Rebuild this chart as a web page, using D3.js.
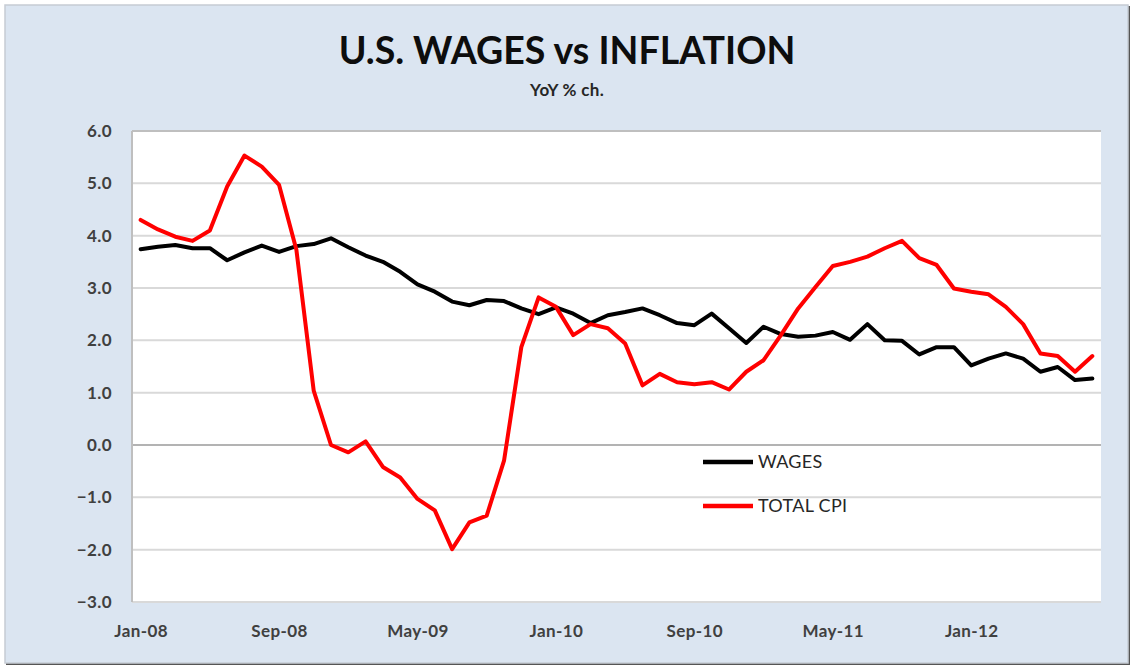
<!DOCTYPE html>
<html>
<head>
<meta charset="utf-8">
<script src="https://cdn.jsdelivr.net/npm/d3@7"></script>
<style>
  body { margin: 0; background: #fff; }
  svg { display: block; }
</style>
</head>
<body>
<div id="chart"></div>
<script>

// months, Jan-08 .. Aug-12
var months = [
  "Jan-08","Feb-08","Mar-08","Apr-08","May-08","Jun-08","Jul-08","Aug-08","Sep-08","Oct-08","Nov-08","Dec-08",
  "Jan-09","Feb-09","Mar-09","Apr-09","May-09","Jun-09","Jul-09","Aug-09","Sep-09","Oct-09","Nov-09","Dec-09",
  "Jan-10","Feb-10","Mar-10","Apr-10","May-10","Jun-10","Jul-10","Aug-10","Sep-10","Oct-10","Nov-10","Dec-10",
  "Jan-11","Feb-11","Mar-11","Apr-11","May-11","Jun-11","Jul-11","Aug-11","Sep-11","Oct-11","Nov-11","Dec-11",
  "Jan-12","Feb-12","Mar-12","Apr-12","May-12","Jun-12","Jul-12","Aug-12"
];

var wages = [
  3.74, 3.79, 3.82, 3.76, 3.76, 3.53, 3.68, 3.81, 3.69, 3.80, 3.84, 3.95,
  3.78, 3.62, 3.50, 3.31, 3.07, 2.93, 2.74, 2.67, 2.77, 2.75, 2.61, 2.50,
  2.63, 2.51, 2.33, 2.48, 2.54, 2.61, 2.48, 2.33, 2.29, 2.51, 2.23, 1.95,
  2.26, 2.12, 2.07, 2.09, 2.16, 2.01, 2.31, 2.00, 1.99, 1.73, 1.87, 1.87,
  1.52, 1.65, 1.75, 1.65, 1.40, 1.49, 1.24, 1.27
];

var totalCpi = [
  4.30, 4.12, 3.98, 3.90, 4.10, 4.94, 5.53, 5.32, 4.97, 3.73, 1.04, 0.00,
  -0.14, 0.07, -0.42, -0.62, -1.03, -1.25, -1.99, -1.48, -1.35, -0.30, 1.87, 2.82,
  2.64, 2.10, 2.31, 2.23, 1.94, 1.14, 1.36, 1.20, 1.16, 1.20, 1.06, 1.40,
  1.62, 2.10, 2.61, 3.02, 3.42, 3.50, 3.60, 3.76, 3.90, 3.57, 3.44, 2.99,
  2.93, 2.88, 2.64, 2.31, 1.75, 1.70, 1.40, 1.70
];

var xTickLabels = ["Jan-08","Sep-08","May-09","Jan-10","Sep-10","May-11","Jan-12"];
var yTickValues = [-3, -2, -1, 0, 1, 2, 3, 4, 5, 6];

var seriesNames = ["WAGES", "TOTAL CPI"];
var seriesColors = ["#000000", "#ff0000"];

var width = 1135,
  height = 668,
  plot = {left: 132, right: 1101, top: 131, bottom: 602};

var fontFamily = "Lato, 'Open Sans', sans-serif";

var svg = d3.select("#chart").append("svg")
  .attr("width", width)
  .attr("height", height);

// outer panel with shadow edge
svg.append("rect")
  .attr("x", 6).attr("y", 6)
  .attr("width", 1124).attr("height", 659)
  .attr("fill", "#555");
svg.append("rect")
  .attr("x", 5).attr("y", 5)
  .attr("width", 1123).attr("height", 658)
  .attr("fill", "#dbe5f1")
  .attr("stroke", "#c6ccd4")
  .attr("stroke-width", 1.5);

// title
svg.append("text")
  .attr("x", 567).attr("y", 64)
  .attr("text-anchor", "middle")
  .attr("font-family", fontFamily)
  .attr("font-weight", "bold")
  .attr("font-size", "37.5px")
  .attr("fill", "#0d0d0d")
  .text("U.S. WAGES vs INFLATION");

svg.append("text")
  .attr("x", 567).attr("y", 96)
  .attr("text-anchor", "middle")
  .attr("font-family", fontFamily)
  .attr("font-weight", "bold")
  .attr("font-size", "17px")
  .attr("letter-spacing", "0.3px")
  .attr("fill", "#262626")
  .text("YoY % ch.");

var xScale = d3.scalePoint()
  .domain(months)
  .range([plot.left, plot.right])
  .padding(0.5);

var yScale = d3.scaleLinear()
  .domain([-3, 6])
  .range([plot.bottom, plot.top]);

// plot area
svg.append("rect")
  .attr("x", plot.left).attr("y", plot.top)
  .attr("width", plot.right - plot.left)
  .attr("height", plot.bottom - plot.top)
  .attr("fill", "#fff");

// gridlines
svg.append("g")
  .selectAll("line")
  .data(yTickValues)
  .enter().append("line")
    .attr("x1", plot.left).attr("x2", plot.right)
    .attr("y1", function(d) { return yScale(d); })
    .attr("y2", function(d) { return yScale(d); })
    .attr("stroke", function(d) { return d === 0 ? "#b3b3b3" : "#d9d9d9"; })
    .attr("stroke-width", 2);

// plot edge shadow top / left
svg.append("line")
  .attr("x1", plot.left).attr("x2", plot.right)
  .attr("y1", plot.top).attr("y2", plot.top)
  .attr("stroke", "#bfbfbf").attr("stroke-width", 2);
svg.append("line")
  .attr("x1", plot.left).attr("x2", plot.left)
  .attr("y1", plot.top).attr("y2", plot.bottom)
  .attr("stroke", "#bfbfbf").attr("stroke-width", 2);

// y axis
var yAxisG = svg.append("g")
  .attr("transform", "translate(" + plot.left + ",0)")
  .call(d3.axisLeft(yScale)
    .tickValues(yTickValues)
    .tickSize(0)
    .tickPadding(20)
    .tickFormat(d3.format(".1f")));
yAxisG.select(".domain").remove();
yAxisG.selectAll("text")
  .attr("font-family", fontFamily)
  .attr("font-weight", "bold")
  .attr("font-size", "17px")
  .attr("letter-spacing", "0.4px")
  .attr("fill", "#404040");

// x axis
var xAxisG = svg.append("g")
  .attr("transform", "translate(0," + plot.bottom + ")")
  .call(d3.axisBottom(xScale)
    .tickValues(xTickLabels)
    .tickSize(0)
    .tickPadding(23));
xAxisG.select(".domain").remove();
xAxisG.selectAll("text")
  .attr("font-family", fontFamily)
  .attr("font-weight", "bold")
  .attr("font-size", "17px")
  .attr("letter-spacing", "0.4px")
  .attr("fill", "#404040");

// lines
var line = d3.line()
  .x(function(d, i) { return xScale(months[i]); })
  .y(function(d) { return yScale(d); });

svg.append("g")
  .selectAll("path")
  .data([wages, totalCpi])
  .enter().append("path")
    .attr("d", line)
    .attr("fill", "none")
    .attr("stroke", function(d, i) { return seriesColors[i]; })
    .attr("stroke-width", 4)
    .attr("stroke-linejoin", "round")
    .attr("stroke-linecap", "round");

// legend
var legend = svg.append("g")
  .attr("transform", "translate(703,462)");

var legendItem = legend.selectAll("g")
  .data(seriesNames)
  .enter().append("g")
    .attr("transform", function(d, i) { return "translate(0," + (i * 44) + ")"; });

legendItem.append("line")
  .attr("x1", 0).attr("x2", 50)
  .attr("stroke", function(d, i) { return seriesColors[i]; })
  .attr("stroke-width", 4.5);

legendItem.append("text")
  .attr("x", 55)
  .attr("dy", "0.35em")
  .attr("font-family", fontFamily)
  .attr("font-size", "18px")
  .attr("letter-spacing", "0.3px")
  .attr("fill", "#262626")
  .text(function(d) { return d; });

</script>
</body>
</html>
